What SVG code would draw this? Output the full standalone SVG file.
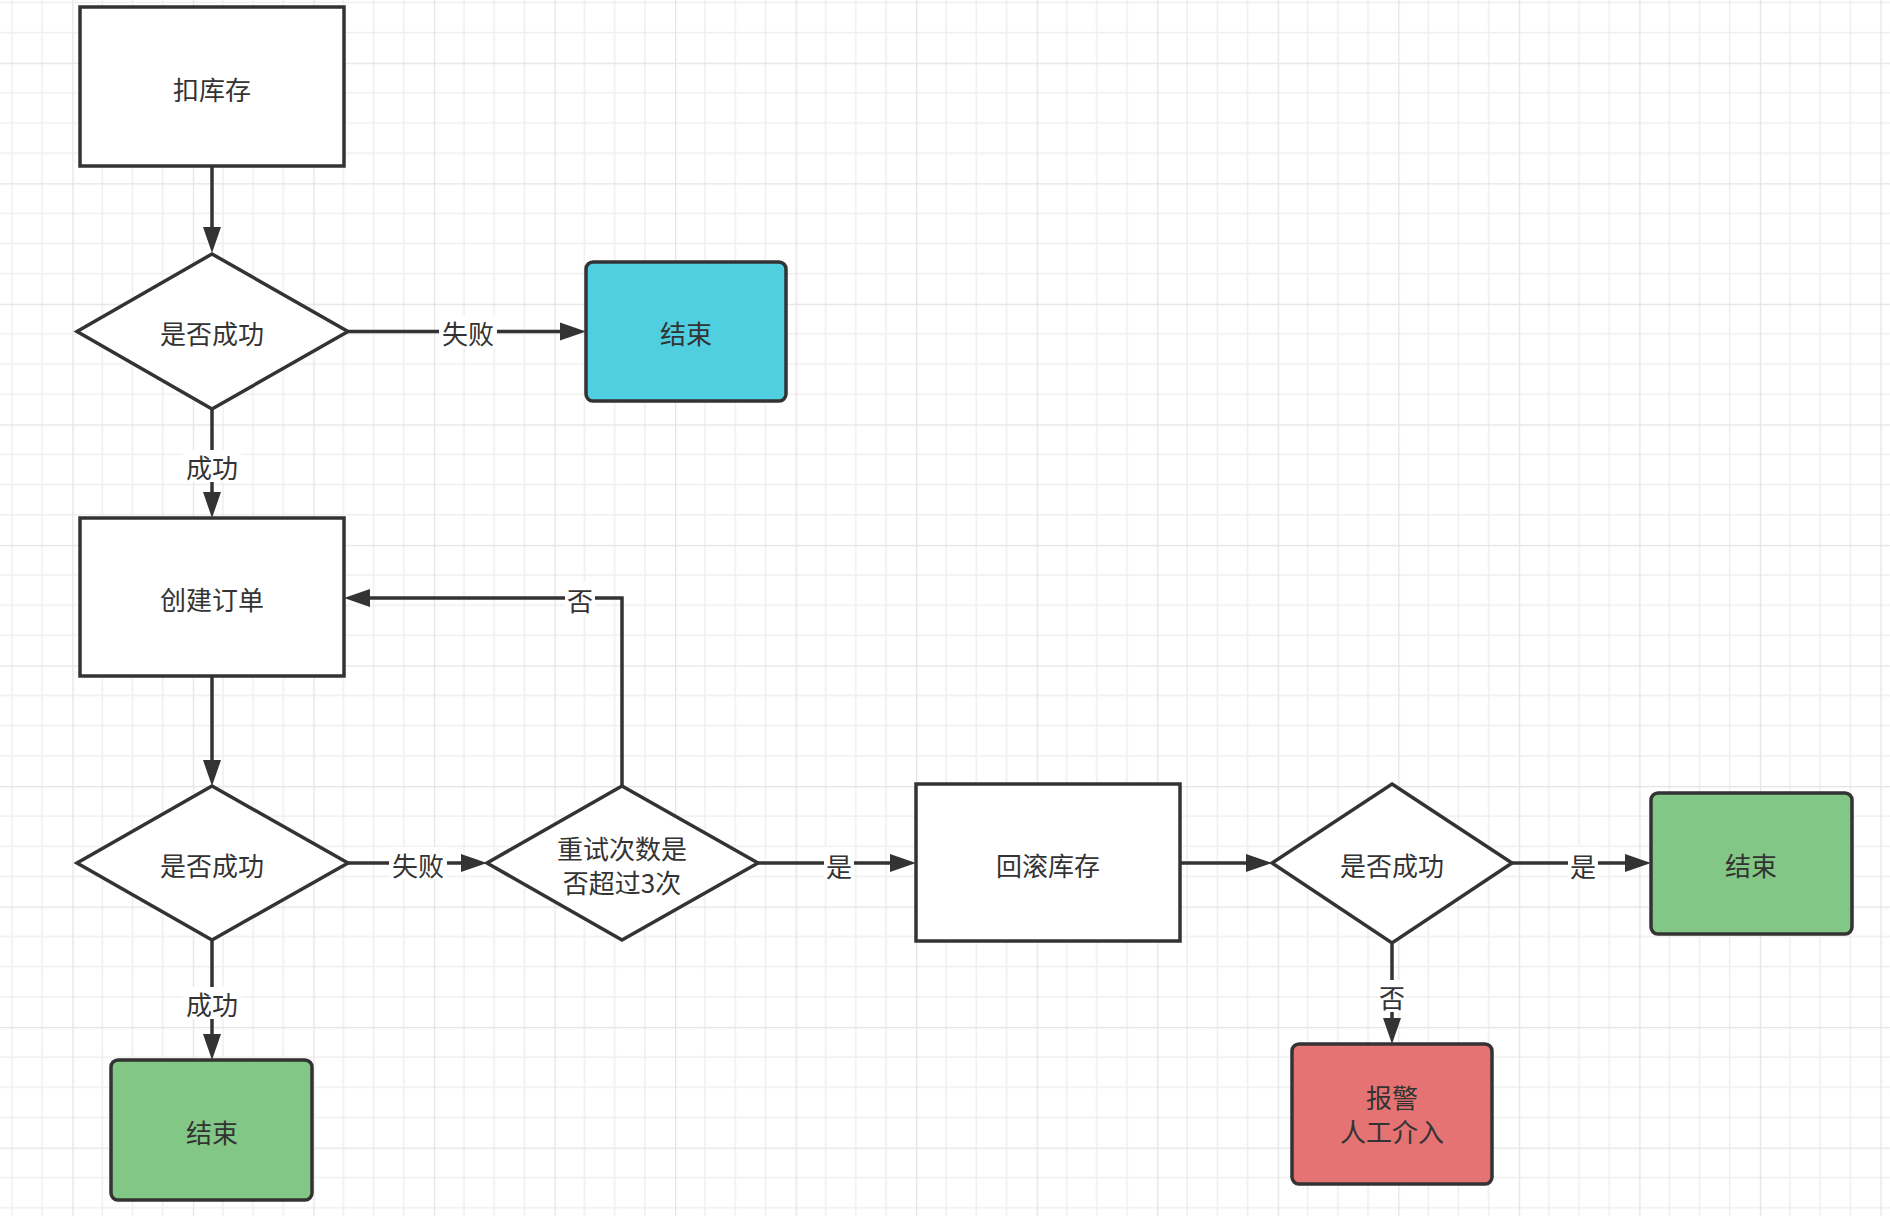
<svg xmlns="http://www.w3.org/2000/svg" width="1890" height="1216" viewBox="0 0 1890 1216">
<style>
.node{stroke:#333;stroke-width:3.5;}
.box{fill:#fff;}
.edge{fill:none;stroke:#333;stroke-width:3.5;}
.t{font-family:"Noto Sans CJK SC","Noto Sans",sans-serif;font-size:26px;fill:#333;text-anchor:middle;dominant-baseline:central;}
.lb{fill:#fff;}
</style>
<defs>
<pattern id="grid" patternUnits="userSpaceOnUse" x="72.3" y="62.7" width="120.54" height="120.54">
<rect width="120.54" height="120.54" fill="#fff"/>
<path d="M30.13,0V120.54M60.27,0V120.54M90.4,0V120.54M0,30.13H120.54M0,60.27H120.54M0,90.4H120.54" stroke="#efefef" stroke-width="1.5"/>
<path d="M0,0V120.54M0,0H120.54" stroke="#e4e4e4" stroke-width="2.5"/>
</pattern>
<marker id="arr" markerUnits="userSpaceOnUse" markerWidth="26" markerHeight="20" refX="16" refY="10" orient="auto">
<path d="M0,1 L26,10 L0,19 Z" fill="#333"/>
</marker>
</defs>
<rect width="1890" height="1216" fill="url(#grid)"/>

<g id="connectors">
<path class="edge" d="M212,166 V243" marker-end="url(#arr)"/>
<path class="edge" d="M348,331.5 H576" marker-end="url(#arr)"/>
<path class="edge" d="M212,409 V508" marker-end="url(#arr)"/>
<path class="edge" d="M212,676 V776" marker-end="url(#arr)"/>
<path class="edge" d="M348,863 H477" marker-end="url(#arr)"/>
<path class="edge" d="M622,786 V598 H354" marker-end="url(#arr)"/>
<path class="edge" d="M758,863 H906" marker-end="url(#arr)"/>
<path class="edge" d="M1180,863 H1262" marker-end="url(#arr)"/>
<path class="edge" d="M1512,863 H1641" marker-end="url(#arr)"/>
<path class="edge" d="M1392,943 V1034" marker-end="url(#arr)"/>
<path class="edge" d="M212,940 V1050" marker-end="url(#arr)"/>
<rect class="lb" x="439" y="316" width="58" height="32"/>
<text class="t" x="468" y="332">失败</text>
<rect class="lb" x="183" y="450" width="58" height="32"/>
<text class="t" x="212" y="466">成功</text>
<rect class="lb" x="565" y="582" width="30" height="32"/>
<text class="t" x="580" y="599">否</text>
<rect class="lb" x="389" y="847" width="58" height="32"/>
<text class="t" x="418" y="864">失败</text>
<rect class="lb" x="824" y="847" width="30" height="32"/>
<text class="t" x="839" y="865">是</text>
<rect class="lb" x="1568" y="847" width="30" height="32"/>
<text class="t" x="1583" y="865">是</text>
<rect class="lb" x="1377" y="980" width="30" height="32"/>
<text class="t" x="1392" y="996">否</text>
<rect class="lb" x="183" y="987" width="58" height="32"/>
<text class="t" x="212" y="1003">成功</text>
</g>

<g id="n1">
<rect class="node box" x="80" y="7" width="264" height="159"/>
<text class="t" x="212" y="88">扣库存</text>
</g>
<g id="d1">
<polygon class="node box" points="212,254 348,331.5 212,409 77,331.5"/>
<text class="t" x="212" y="332">是否成功</text>
</g>
<g id="end1">
<rect class="node" x="586" y="262" width="200" height="139" rx="7" fill="#4fcfe0"/>
<text class="t" x="686" y="332">结束</text>
</g>
<g id="n2">
<rect class="node box" x="80" y="518" width="264" height="158"/>
<text class="t" x="212" y="598">创建订单</text>
</g>
<g id="d2">
<polygon class="node box" points="212,786 348,863 212,940 77,863"/>
<text class="t" x="212" y="864">是否成功</text>
</g>
<g id="d3">
<polygon class="node box" points="622,786 758,863 622,940 487,863"/>
<text class="t" x="622" y="847">重试次数是</text>
<text class="t" x="622" y="881">否超过3次</text>
</g>
<g id="n3">
<rect class="node box" x="916" y="784" width="264" height="157"/>
<text class="t" x="1048" y="864">回滚库存</text>
</g>
<g id="d4">
<polygon class="node box" points="1392,784 1512,863 1392,943 1272,863"/>
<text class="t" x="1392" y="864">是否成功</text>
</g>
<g id="end2">
<rect class="node" x="1651" y="793" width="201" height="141" rx="7" fill="#82c785"/>
<text class="t" x="1751" y="864">结束</text>
</g>
<g id="alarm">
<rect class="node" x="1292" y="1044" width="200" height="140" rx="7" fill="#e57373"/>
<text class="t" x="1392" y="1096">报警</text>
<text class="t" x="1392" y="1130">人工介入</text>
</g>
<g id="end3">
<rect class="node" x="111" y="1060" width="201" height="140" rx="7" fill="#82c785"/>
<text class="t" x="212" y="1131">结束</text>
</g>
</svg>
